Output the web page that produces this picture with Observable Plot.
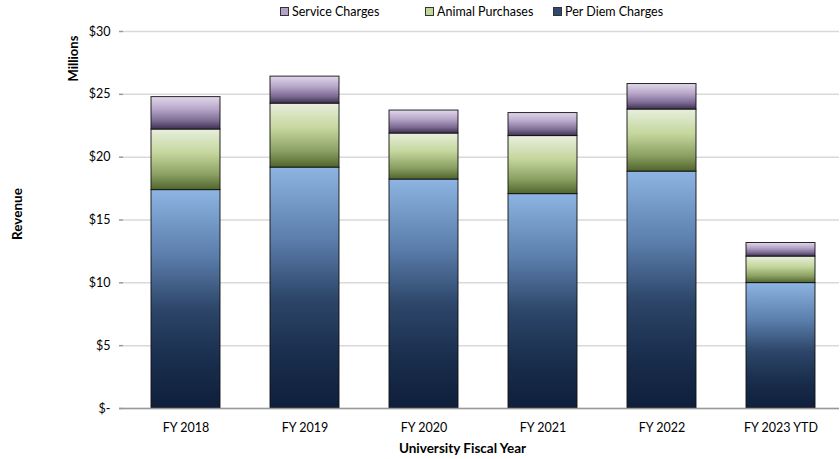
<!DOCTYPE html>
<html>
<head>
<meta charset="utf-8">
<script src="https://cdn.jsdelivr.net/npm/d3@7"></script>
<script src="https://cdn.jsdelivr.net/npm/@observablehq/plot@0.6"></script>
<style>
  body { margin: 0; background: #fff; }
  #wrap { position: relative; width: 840px; height: 459px; font-family: Lato, "Open Sans", sans-serif; }
  #legend { position: absolute; top: 4px; left: 0; width: 840px; height: 18px; font-size: 12.5px; color: #000; }
  #legend .item { position: absolute; top: 0; display: flex; align-items: center; white-space: nowrap; }
  #legend .sw { width: 9px; height: 9px; border: 1px solid #333; margin-right: 3px; box-sizing: border-box; }
</style>
</head>
<body>
<div id="wrap">
  <div id="chart"></div>
  <div id="legend"></div>
</div>
<script>
const categories = ["FY 2018", "FY 2019", "FY 2020", "FY 2021", "FY 2022", "FY 2023 YTD"];
const seriesNames = ["Per Diem Charges", "Animal Purchases", "Service Charges"];
const perDiem = [17.38, 19.17, 18.22, 17.06, 18.85, 9.98];
const animal = [4.82, 5.09, 3.66, 4.62, 4.94, 2.11];
const service = [2.58, 2.15, 1.83, 1.83, 2.03, 1.08];
const yTicks = [0, 5, 10, 15, 20, 25, 30];

const seriesValues = [perDiem, animal, service];
const data = [];
seriesNames.forEach((s, i) => {
  categories.forEach((c, j) => data.push({category: c, series: s, value: seriesValues[i][j]}));
});

const fills = ["url(#gBlue)", "url(#gGreen)", "url(#gPurple)"];
const legendSwatch = ["#2f4a70", "#c3d69b", "#b3a2c7"];

const plot = Plot.plot({
  width: 840,
  height: 459,
  marginLeft: 123,
  marginRight: 1,
  marginTop: 31,
  marginBottom: 51,
  style: {fontFamily: "Lato, 'Open Sans', sans-serif", fontSize: "12.5px", color: "#000", background: "#fff"},
  x: {domain: categories, paddingInner: 0.42, paddingOuter: 0.21, range: [125, 841], label: null},
  y: {domain: [0, 30], label: null},
  color: {domain: seriesNames, range: fills},
  marks: [
    Plot.gridY(yTicks, {stroke: "#d9d9d9", strokeOpacity: 1, strokeWidth: 1.5}),
    Plot.barY(data, {
      x: "category", y: "value", fill: "series",
      order: seriesNames,
      stroke: "#111", strokeWidth: 1, strokeOpacity: 0.9
    }),
    Plot.ruleX([0], {frameAnchor: "left", stroke: "#999", strokeWidth: 1.5}),
    Plot.ruleY([0], {stroke: "#999", strokeWidth: 1.5, insetLeft: -4}),
    Plot.axisY(yTicks, {
      tickSize: 4, tickPadding: 9, stroke: "#999", strokeWidth: 1.5,
      tickFormat: d => d === 0 ? "$-" : "$" + d, label: null, fontSize: 12.5
    }),
    Plot.axisX({tickSize: 0, tickPadding: 15, label: null, fontSize: 12.5}),
    Plot.text(["University Fiscal Year"], {frameAnchor: "bottom", lineAnchor: "middle", textAnchor: "middle", dx: -19, dy: 40, fontWeight: "bold", fontSize: 13.5}),
    Plot.text(["Millions"], {frameAnchor: "top-left", lineAnchor: "middle", textAnchor: "middle", dx: -50, dy: 27, rotate: -90, fontWeight: "bold", fontSize: 13}),
    Plot.text(["Revenue"], {frameAnchor: "left", lineAnchor: "middle", textAnchor: "middle", dx: -106, dy: -6, rotate: -90, fontWeight: "bold", fontSize: 13.5})
  ]
});

const defs = `
<defs>
  <linearGradient id="gBlue" x1="0" y1="0" x2="0" y2="1">
    <stop offset="0" stop-color="#8db4e2"/>
    <stop offset="0.3" stop-color="#5b7eac"/>
    <stop offset="0.55" stop-color="#2c4568"/>
    <stop offset="0.8" stop-color="#182c4b"/>
    <stop offset="1" stop-color="#0f1f3b"/>
  </linearGradient>
  <linearGradient id="gGreen" x1="0" y1="0" x2="0" y2="1">
    <stop offset="0" stop-color="#e8efdd"/>
    <stop offset="0.4" stop-color="#c4d69c"/>
    <stop offset="0.75" stop-color="#8ba063"/>
    <stop offset="1" stop-color="#50652c"/>
  </linearGradient>
  <linearGradient id="gPurple" x1="0" y1="0" x2="0" y2="1">
    <stop offset="0" stop-color="#e1d8ea"/>
    <stop offset="0.4" stop-color="#b5a4c8"/>
    <stop offset="0.75" stop-color="#7c6a92"/>
    <stop offset="1" stop-color="#3f3151"/>
  </linearGradient>
</defs>`;
plot.insertAdjacentHTML("afterbegin", defs);
document.getElementById("chart").appendChild(plot);

const legend = document.getElementById("legend");
const legendOrder = [2, 1, 0];
const legendX = [280, 425, 553];
legendOrder.forEach((idx, k) => {
  const item = document.createElement("div");
  item.className = "item";
  item.style.left = legendX[k] + "px";
  const sw = document.createElement("div");
  sw.className = "sw";
  sw.style.background = legendSwatch[idx];
  const t = document.createElement("span");
  t.textContent = seriesNames[idx];
  item.appendChild(sw); item.appendChild(t);
  legend.appendChild(item);
});
</script>
</body>
</html>
